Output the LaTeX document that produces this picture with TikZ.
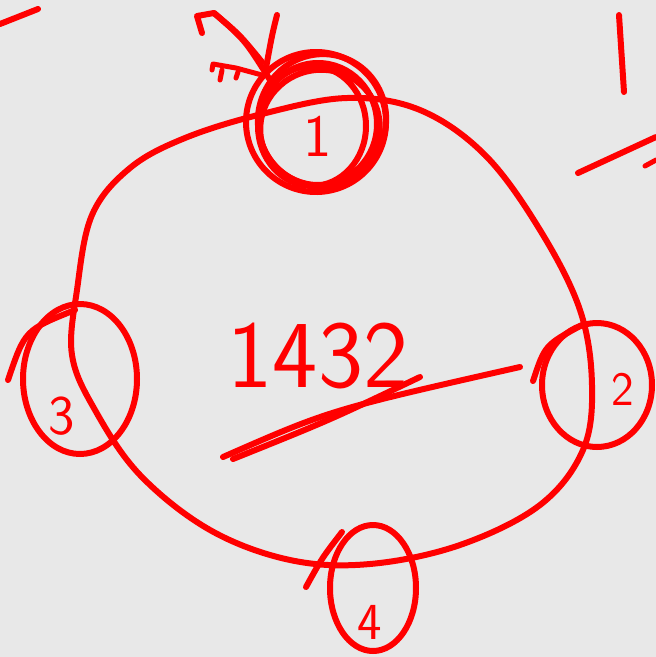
\documentclass[tikz,border=0pt]{standalone}
\usepackage{fontspec}
\usetikzlibrary{shapes.geometric}
\begin{document}
\begin{tikzpicture}[x=1pt,y=-1pt, line cap=round, line join=round]
\definecolor{bg}{HTML}{E8E8E8}
\definecolor{ink}{HTML}{FF0000}
\tikzset{
  pen/.style={draw=ink, line width=6pt},
  thin pen/.style={draw=ink, line width=5pt},
  ring/.style={ellipse, draw=ink, line width=6pt, inner sep=0pt},
  lbl/.style={text=ink, inner sep=0pt, font=\sffamily\fontsize{#1}{#1}\selectfont}
}
\fill[bg] (0,0) rectangle (656,657);
\useasboundingbox (0,0) rectangle (656,657);

% big loop
\draw[pen] plot[smooth cycle, tension=0.6] coordinates {
  (77,290) (92,215) (130,168) (185,138) (262,114) (347,98) (420,110)
  (485,155) (540,230) (580,310) (592,385) (583,450) (540,505)
  (460,545) (370,564) (290,560) (210,530) (140,475) (95,410) (72,355)};

% node 1 (scribbled)
\node[ring, minimum width=118pt, minimum height=122pt] (n1) at (318,124) {};
\draw[pen] (316,122) ellipse [x radius=70pt, y radius=70pt, rotate=10];
\draw[pen] (322,120) ellipse [x radius=64pt, y radius=66pt, rotate=-15];
\draw[pen] (312,126) ellipse [x radius=54pt, y radius=60pt];
\draw[pen] (320,128) ellipse [x radius=60pt, y radius=58pt, rotate=20];
\node[lbl=60] (l1) at (n1.center) [yshift=-12pt] {1};

% arrow-like scribble above node 1
\draw[pen] (202,33) -- (197,16) -- (214,13) .. controls (240,35) .. (262,62);
\draw[pen] (214,13) .. controls (245,40) .. (270,80);
\draw[pen] (277,15) .. controls (272,35) .. (266,68);
\draw[thin pen] (212,70) -- (213,64) -- (236,68) -- (262,75);
\draw[thin pen] (220,80) -- (222,70);
\draw[thin pen] (236,78) -- (238,72);

% node 2
\node[ring, minimum width=110pt, minimum height=124pt] (n2) at (597,385) {};
\draw[pen] (533,381) .. controls (545,345) .. (582,325);
\node[lbl=48] (l2) at (623,389) {2};

% node 3
\node[ring, minimum width=114pt, minimum height=150pt] (n3) at (80,379) {};
\draw[pen] (8,380) .. controls (25,330) .. (75,310);
\node[lbl=56] (l3) at (62,416) {3};

% node 4
\node[ring, minimum width=86pt, minimum height=126pt] (n4) at (373,588) {};
\draw[pen] (306,587) .. controls (322,558) .. (342,532);
\node[lbl=52] (l4) at (370,622) {4};

% centre number
\node[lbl=96] (num) at (318,356) {1432};
\draw[pen] (223,457) .. controls (330,410) .. (520,367);
\draw[pen] (233,459) .. controls (330,420) .. (420,377);

% corner marks
\draw[pen] (0,24) -- (38,9);
\draw[pen] (619,15) -- (624,92);
\draw[pen] (578,173) -- (656,137);
\draw[thin pen] (645,166) -- (656,160);
\end{tikzpicture}
\end{document}
